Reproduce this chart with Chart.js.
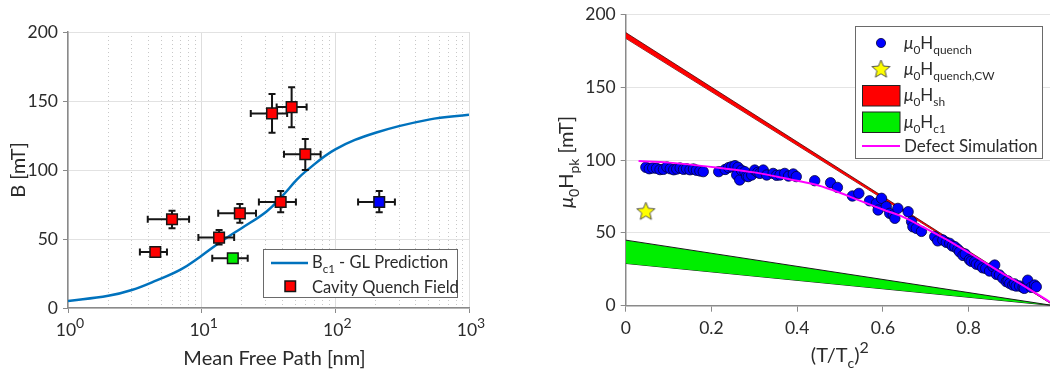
<!DOCTYPE html>
<html lang="en">
<head>
<meta charset="UTF-8">
<title>Quench field vs mean free path</title>
<script src="https://cdn.jsdelivr.net/npm/chart.js"></script>
<style>
  body { margin: 0; background: #fff; overflow: hidden; }
  .panel { position: absolute; top: 0; height: 375px; }
  #left-panel { left: 0; width: 490px; }
  #right-panel { left: 540px; width: 510px; }
</style>
</head>
<body>
<div class="panel" id="left-panel"><canvas id="mfpChart"></canvas></div>
<div class="panel" id="right-panel"><canvas id="quenchChart"></canvas></div>

<script>
// ---- left panel: quench field vs mean free path ----
const redMfp    = [4.5, 6.0, 13.5, 19.3, 39, 33.6, 47.1, 59.6];
const redMfpLo  = [3.45, 3.95, 9.45, 13.3, 26.8, 23.3, 36.4, 41.3];
const redMfpHi  = [5.5, 8.05, 17.5, 25.5, 50.7, 43.6, 61, 77.6];
const redB      = [40.6, 64.3, 51, 68.6, 76.8, 141, 145.6, 111.4];
const redBLo    = [37.6, 57.7, 46, 61.8, 69.3, 127, 131, 100];
const redBHi    = [43.6, 70.5, 56.5, 75.4, 84.8, 155, 160, 122.5];

const greenMfp = [17.1], greenMfpLo = [12.0], greenMfpHi = [22.1];
const greenB   = [36],   greenBLo   = [34],   greenBHi   = [38];

const blueMfp = [213], blueMfpLo = [148], blueMfpHi = [279];
const blueB   = [76.8], blueBLo  = [69.3], blueBHi  = [84.8];

// B_c1 GL prediction
const glMfp = [1, 2, 3, 4.6, 7, 9.7, 13, 17.2, 20, 30.6, 40, 51.3, 60, 100, 200, 500, 1000];
const glBc1 = [5, 8.8, 13, 20, 28, 37, 46, 54, 58, 70, 81, 92.8, 99, 115, 127, 136.5, 140];

const mfpTicks = [1, 10, 100, 1000];
const mfpMinor = [2, 3, 4, 5, 6, 7, 8, 9, 20, 30, 40, 50, 60, 70, 80, 90,
                  200, 300, 400, 500, 600, 700, 800, 900];

// ---- right panel: peak field vs (T/Tc)^2 ----
const tSq = [0.047, 0.055, 0.063, 0.072, 0.080, 0.088, 0.096, 0.104, 0.112, 0.119, 0.127, 0.135,
  0.142, 0.150, 0.158, 0.165, 0.173, 0.181, 0.217, 0.232, 0.240, 0.247, 0.255, 0.262, 0.259, 0.266,
  0.270, 0.278, 0.282, 0.286, 0.294, 0.301, 0.308, 0.313, 0.321, 0.329, 0.344, 0.352, 0.360, 0.371,
  0.380, 0.391, 0.398, 0.441, 0.478, 0.494, 0.529, 0.544, 0.569, 0.585, 0.589, 0.597, 0.608, 0.616,
  0.624, 0.628, 0.635, 0.659, 0.667, 0.670, 0.678, 0.690, 0.721, 0.728, 0.740, 0.748, 0.756, 0.762,
  0.768, 0.775, 0.779, 0.787, 0.792, 0.802, 0.806, 0.814, 0.818, 0.826, 0.833, 0.840, 0.849, 0.857,
  0.861, 0.865, 0.872, 0.880, 0.888, 0.892, 0.896, 0.903, 0.907, 0.911, 0.919, 0.927, 0.930, 0.938,
  0.946, 0.954, 0.958];
const hQuench = [95.0, 94.0, 94.5, 94.3, 93.4, 93.6, 95.2, 94.0, 93.3, 93.8, 94.5, 93.6,
  94.0, 93.3, 93.8, 93.0, 92.5, 92.0, 92.0, 93.5, 94.8, 95.4, 96.1, 95.0, 89.7, 86.3,
  93.0, 92.0, 89.0, 88.6, 89.7, 93.1, 91.5, 90.8, 93.1, 89.7, 90.8, 89.5, 89.7, 90.8,
  89.0, 90.4, 88.6, 85.8, 84.4, 81.2, 75.3, 77.1, 72.0, 70.3, 65.7, 73.7, 68.0, 63.4,
  62.3, 60.0, 66.8, 64.5, 57.7, 54.2, 53.1, 51.0, 47.4, 44.5, 45.1, 43.5, 42.8, 41.0,
  40.5, 38.7, 37.0, 34.5, 35.5, 31.5, 30.5, 30.2, 28.5, 27.9, 26.0, 25.6, 23.8, 26.8,
  27.9, 21.5, 21.1, 18.8, 16.5, 17.0, 15.3, 14.2, 15.0, 13.5, 13.5, 12.5, 11.9, 17.5,
  12.6, 14.2, 13.0];

const cwT = [0.047], cwH = [65.2];

const shT = [0, 1], shHi = [187.5, 0], shLo = [183.5, 0];
const c1T = [0, 1], c1Hi = [45, 0],    c1Lo = [29, 0];

const simT = [0.03, 0.1, 0.22, 0.3, 0.39, 0.45, 0.5, 0.53, 0.6, 0.647, 0.7, 0.763, 0.8, 0.88, 0.93, 0.99];
const simH = [99.3, 98.2, 94.5, 91.5, 86.3, 82.5, 77.5, 74, 66, 61, 53, 43, 36.5, 22, 13.5, 2.5];

const tTicks = [0, 0.2, 0.4, 0.6, 0.8];

// ---- helpers ----
const FONT = 'Lato, "Open Sans", sans-serif';
const TEXT = '#2b2b2b';
Chart.defaults.font.family = FONT;
Chart.defaults.color = TEXT;

const pts = (xs, ys) => xs.map((x, i) => ({x: x, y: ys[i]}));
const pairs = (lo, hi) => lo.map((v, i) => [v, hi[i]]);

// draw text made of parts: [text, ''|'sub'|'sup'|'it']
function drawRich(ctx, parts, x, y, size, align) {
  const fontFor = k => (k === 'it' ? 'italic ' : '') +
    (k === 'sub' ? size * 0.7 : k === 'sup' ? size * 0.8 : size) + 'px ' + FONT;
  let w = 0;
  parts.forEach(([t, k]) => { ctx.font = fontFor(k); w += ctx.measureText(t).width; });
  let cx = align === 'center' ? x - w / 2 : x;
  ctx.textAlign = 'left';
  ctx.textBaseline = 'alphabetic';
  parts.forEach(([t, k]) => {
    ctx.font = fontFor(k);
    const dy = k === 'sub' ? size * 0.32 : k === 'sup' ? -size * 0.45 : 0;
    ctx.fillText(t, cx, y + dy);
    cx += ctx.measureText(t).width;
  });
}

function makeStar(size) {
  const c = document.createElement('canvas');
  c.width = c.height = size;
  const g = c.getContext('2d');
  const r = size / 2 - 1, ri = r * 0.45, m = size / 2;
  g.beginPath();
  for (let i = 0; i < 10; i++) {
    const a = -Math.PI / 2 + i * Math.PI / 5;
    const rr = i % 2 ? ri : r;
    g.lineTo(m + rr * Math.cos(a), m + 1 + rr * Math.sin(a));
  }
  g.closePath();
  g.fillStyle = '#ffff00';
  g.fill();
  g.strokeStyle = '#444';
  g.lineWidth = 0.9;
  g.stroke();
  return c;
}
const starImg = makeStar(21);

// error bars drawn just before the markers of a dataset
const errorBars = {
  id: 'errorBars',
  beforeDatasetDraw(chart, args) {
    const ds = chart.data.datasets[args.index];
    if (!ds.errX) return;
    const ctx = chart.ctx, x = chart.scales.x, y = chart.scales.y;
    ctx.save();
    ctx.strokeStyle = '#151515';
    ctx.lineWidth = 2;
    ds.data.forEach((p, i) => {
      const px = x.getPixelForValue(p.x), py = y.getPixelForValue(p.y);
      const x0 = x.getPixelForValue(ds.errX[i][0]), x1 = x.getPixelForValue(ds.errX[i][1]);
      const y0 = y.getPixelForValue(ds.errY[i][0]), y1 = y.getPixelForValue(ds.errY[i][1]);
      ctx.beginPath();
      ctx.moveTo(x0, py); ctx.lineTo(x1, py);
      ctx.moveTo(x0, py - 3.5); ctx.lineTo(x0, py + 3.5);
      ctx.moveTo(x1, py - 3.5); ctx.lineTo(x1, py + 3.5);
      ctx.moveTo(px, y0); ctx.lineTo(px, y1);
      ctx.moveTo(px - 3.5, y0); ctx.lineTo(px + 3.5, y0);
      ctx.moveTo(px - 3.5, y1); ctx.lineTo(px + 3.5, y1);
      ctx.stroke();
    });
    ctx.restore();
  }
};

function legendBox(ctx, x, y, w, h) {
  ctx.fillStyle = '#fff';
  ctx.fillRect(x, y, w, h);
  ctx.strokeStyle = '#6a6a6a';
  ctx.lineWidth = 1;
  ctx.strokeRect(x + 0.5, y + 0.5, w, h);
}

const mfpDecor = {
  id: 'mfpDecor',
  afterDraw(chart) {
    const ctx = chart.ctx, x = chart.scales.x, a = chart.chartArea;
    ctx.save();
    ctx.fillStyle = TEXT;
    mfpTicks.forEach(v => {
      drawRich(ctx, [['10', ''], [String(Math.round(Math.log10(v))), 'sup']],
        x.getPixelForValue(v) + 2, a.bottom + 28, 17.5, 'center');
    });
    drawRich(ctx, [['Mean Free Path [nm]', '']], (a.left + a.right) / 2 + 6, 365, 20, 'center');
    ctx.save();
    ctx.translate(25, (a.top + a.bottom) / 2);
    ctx.rotate(-Math.PI / 2);
    drawRich(ctx, [['B [mT]', '']], 0, 0, 20, 'center');
    ctx.restore();

    // legend
    legendBox(ctx, 263, 249, 194, 48);
    ctx.strokeStyle = '#0072bd';
    ctx.lineWidth = 2.5;
    ctx.beginPath(); ctx.moveTo(271, 263); ctx.lineTo(308, 263); ctx.stroke();
    ctx.fillStyle = '#ff0000';
    ctx.fillRect(285, 281, 10.5, 10.5);
    ctx.strokeStyle = '#151515';
    ctx.lineWidth = 1.5;
    ctx.strokeRect(285, 281, 10.5, 10.5);
    ctx.fillStyle = TEXT;
    drawRich(ctx, [['B', ''], ['c1', 'sub'], [' - GL Prediction', '']], 312, 268, 16.5);
    drawRich(ctx, [['Cavity Quench Field', '']], 312, 292.5, 16.5);
    ctx.restore();
  }
};

const quenchDecor = {
  id: 'quenchDecor',
  afterDraw(chart) {
    const ctx = chart.ctx, a = chart.chartArea;
    ctx.save();
    ctx.fillStyle = TEXT;
    drawRich(ctx, [['(T/T', ''], ['c', 'sub'], [')', ''], ['2', 'sup']], (a.left + a.right) / 2 + 2, 362, 20, 'center');
    ctx.save();
    ctx.translate(33, (a.top + a.bottom) / 2 + 2);
    ctx.rotate(-Math.PI / 2);
    drawRich(ctx, [['\u03bc', 'it'], ['0', 'sub'], ['H', ''], ['pk', 'sub'], [' [mT]', '']], 0, 0, 20, 'center');
    ctx.restore();

    // legend
    legendBox(ctx, 315, 26, 187, 132);
    ctx.fillStyle = '#0000ff';
    ctx.strokeStyle = '#00003a';
    ctx.lineWidth = 0.8;
    ctx.beginPath(); ctx.arc(341, 43, 4.6, 0, Math.PI * 2); ctx.fill(); ctx.stroke();
    ctx.drawImage(starImg, 341 - 10.5, 69 - 11);
    ctx.fillStyle = '#ff0000';
    ctx.fillRect(322, 85.5, 38, 20.5);
    ctx.fillStyle = '#00ee00';
    ctx.fillRect(322, 112, 38, 20.5);
    ctx.strokeStyle = '#222';
    ctx.lineWidth = 1;
    ctx.strokeRect(322.5, 85.5, 37.5, 20.5);
    ctx.strokeRect(322.5, 112, 37.5, 20.5);
    ctx.strokeStyle = '#ff00ff';
    ctx.lineWidth = 2;
    ctx.beginPath(); ctx.moveTo(322, 146); ctx.lineTo(360, 146); ctx.stroke();

    ctx.fillStyle = TEXT;
    const mu0H = [['\u03bc', 'it'], ['0', 'sub'], ['H', '']];
    drawRich(ctx, mu0H.concat([['quench', 'sub']]), 364, 49, 17);
    drawRich(ctx, mu0H.concat([['quench,CW', 'sub']]), 364, 75, 17);
    drawRich(ctx, mu0H.concat([['sh', 'sub']]), 364, 101, 17);
    drawRich(ctx, mu0H.concat([['c1', 'sub']]), 364, 127.5, 17);
    drawRich(ctx, [['Defect Simulation', '']], 364, 152, 17);
    ctx.restore();
  }
};

// ---- left chart ----
new Chart(document.getElementById('mfpChart'), {
  type: 'scatter',
  data: {
    datasets: [
      {
        data: pts(blueMfp, blueB),
        errX: pairs(blueMfpLo, blueMfpHi), errY: pairs(blueBLo, blueBHi),
        pointStyle: 'rect', pointRadius: 7.5,
        backgroundColor: '#0000ff', borderColor: '#151515', borderWidth: 1.5
      },
      {
        data: pts(greenMfp, greenB),
        errX: pairs(greenMfpLo, greenMfpHi), errY: pairs(greenBLo, greenBHi),
        pointStyle: 'rect', pointRadius: 7.5,
        backgroundColor: '#00ee00', borderColor: '#151515', borderWidth: 1.5
      },
      {
        label: 'Cavity Quench Field',
        data: pts(redMfp, redB),
        errX: pairs(redMfpLo, redMfpHi), errY: pairs(redBLo, redBHi),
        pointStyle: 'rect', pointRadius: 7.5,
        backgroundColor: '#ff0000', borderColor: '#151515', borderWidth: 1.5
      },
      {
        label: 'Bc1 - GL Prediction',
        data: pts(glMfp, glBc1),
        showLine: true, pointRadius: 0,
        borderColor: '#0072bd', borderWidth: 2.5,
        tension: 0.4
      }
    ]
  },
  options: {
    responsive: true,
    maintainAspectRatio: false,
    animation: false,
    events: [],
    layout: { autoPadding: false, padding: { left: 0, top: 32, right: 21, bottom: 0 } },
    plugins: { legend: { display: false }, tooltip: { enabled: false } },
    scales: {
      x: {
        type: 'logarithmic', min: 1, max: 1000,
        afterBuildTicks: s => { s.ticks = mfpTicks.map(v => ({value: v})); },
        afterFit: s => { s.height = 67; s.paddingLeft = 0; s.paddingRight = 0; },
        ticks: { display: false },
        grid: { color: '#dedede', tickColor: '#8a8a8a', tickLength: 5 },
        border: { color: '#8a8a8a', width: 1.5 }
      },
      xm: {
        type: 'logarithmic', position: 'bottom', min: 1, max: 1000,
        afterBuildTicks: s => { s.ticks = mfpMinor.map(v => ({value: v})); },
        afterFit: s => { s.height = 0; s.paddingLeft = 0; s.paddingRight = 0; },
        ticks: { display: false },
        grid: { color: '#c8c8c8', drawTicks: false },
        border: { display: false, dash: [1, 3] }
      },
      y: {
        min: 0, max: 200,
        afterFit: s => { s.width = 68; },
        ticks: { stepSize: 50, padding: 5, font: { size: 17.5 } },
        grid: { color: '#e2e2e2', tickColor: '#8a8a8a', tickLength: 5 },
        border: { color: '#8a8a8a', width: 1.5 }
      }
    }
  },
  plugins: [errorBars, mfpDecor]
});

// ---- right chart ----
const bandLine = { showLine: true, pointRadius: 0, borderWidth: 1 };

new Chart(document.getElementById('quenchChart'), {
  type: 'scatter',
  data: {
    datasets: [
      Object.assign({ label: 'Defect Simulation', data: pts(simT, simH),
        borderColor: '#ff00ff', cubicInterpolationMode: 'monotone', fill: false }, bandLine, { borderWidth: 2 }),
      { label: 'quench CW', data: pts(cwT, cwH), pointStyle: starImg, pointRadius: 10 },
      { label: 'quench', data: pts(tSq, hQuench), pointRadius: 5.2,
        backgroundColor: '#0000ff', borderColor: '#00003a', borderWidth: 0.8 },
      Object.assign({ label: 'Hsh', data: pts(shT, shHi), borderColor: '#4a0000',
        backgroundColor: '#ff0000', fill: '+1' }, bandLine, { borderWidth: 0.8 }),
      Object.assign({ data: pts(shT, shLo), borderColor: '#4a0000', fill: false }, bandLine, { borderWidth: 0.8 }),
      Object.assign({ label: 'Hc1', data: pts(c1T, c1Hi), borderColor: '#1a1a1a',
        backgroundColor: '#00ee00', fill: '+1' }, bandLine),
      Object.assign({ data: pts(c1T, c1Lo), borderColor: '#1a1a1a', fill: false }, bandLine)
    ]
  },
  options: {
    responsive: true,
    maintainAspectRatio: false,
    animation: false,
    events: [],
    layout: { autoPadding: false, padding: { left: 0, top: 14.3, right: 0, bottom: 0 } },
    plugins: { legend: { display: false }, tooltip: { enabled: false } },
    scales: {
      x: {
        min: 0, max: 0.99,
        afterBuildTicks: s => { s.ticks = tTicks.map(v => ({value: v})); },
        afterFit: s => { s.height = 69.3; s.paddingLeft = 0; s.paddingRight = 0; },
        ticks: { padding: 6, font: { size: 17.5 }, maxRotation: 0,
          callback: v => v === 0 ? '0' : v.toFixed(1) },
        grid: { drawOnChartArea: false, tickColor: '#8a8a8a', tickLength: 6 },
        border: { color: '#8a8a8a', width: 1.5 }
      },
      y: {
        min: 0, max: 200,
        afterFit: s => { s.width = 85.7; s.paddingTop = 0; s.paddingBottom = 0; },
        ticks: { stepSize: 50, padding: 5, font: { size: 17.5 } },
        grid: { color: '#e4e4e4', tickColor: '#8a8a8a', tickLength: 5 },
        border: { color: '#8a8a8a', width: 1.5 }
      }
    }
  },
  plugins: [quenchDecor]
});
</script>
</body>
</html>
